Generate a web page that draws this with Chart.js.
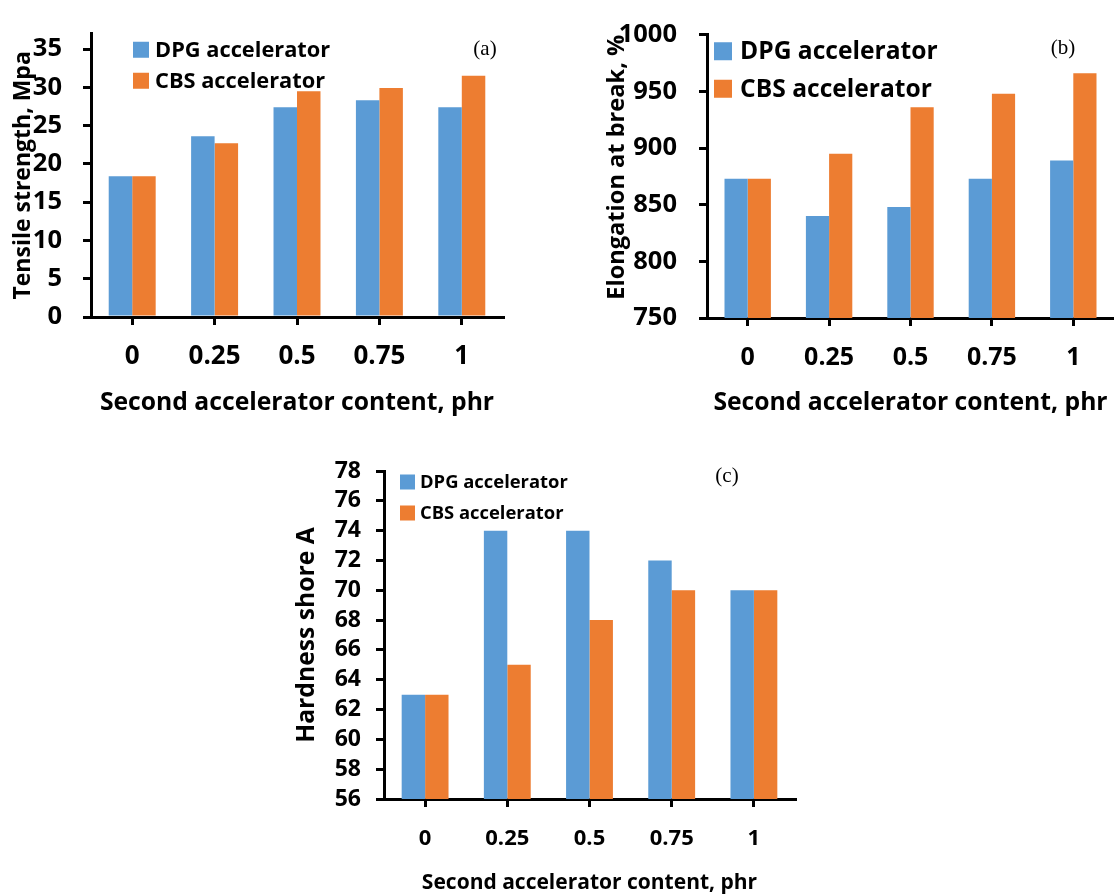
<!DOCTYPE html>
<html>
<head>
<meta charset="utf-8">
<script src="https://cdn.jsdelivr.net/npm/chart.js@4.4.1/dist/chart.umd.min.js"></script>
<style>
  html, body { margin: 0; padding: 0; background: #fff; }
  body { width: 1114px; height: 894px; position: relative; overflow: hidden; }
  canvas { position: absolute; }
  #cA { left: 0; top: 0; }
  #cB { left: 590px; top: 0; }
  #cC { left: 290px; top: 440px; }
</style>
</head>
<body>
<canvas id="cA" width="520" height="420"></canvas>
<canvas id="cB" width="524" height="420"></canvas>
<canvas id="cC" width="620" height="454"></canvas>
<script>
// Second accelerator content (phr)
const categories = ['0', '0.25', '0.5', '0.75', '1'];
const seriesNames = ['DPG accelerator', 'CBS accelerator'];

// (a) Tensile strength, MPa
const tensileDPG = [18.4, 23.6, 27.4, 28.3, 27.4];
const tensileCBS = [18.4, 22.7, 29.5, 29.9, 31.5];

// (b) Elongation at break, %
const elongationDPG = [873, 840, 848, 873, 889];
const elongationCBS = [873, 895, 936, 948, 966];

// (c) Hardness, shore A
const hardnessDPG = [63, 74, 74, 72, 70];
const hardnessCBS = [63, 65, 68, 70, 70];

const BLUE = '#5B9BD5';
const ORANGE = '#ED7D31';
const FONT = '"Open Sans", Lato, sans-serif';

Chart.defaults.font.family = FONT;
Chart.defaults.color = '#000';

// Legend drawn inside the plot area plus the panel tag, e.g. "(a)"
const inlineLegend = {
  id: 'inlineLegend',
  afterDraw(chart, args, o) {
    const ctx = chart.ctx;
    const ca = chart.chartArea;
    ctx.save();
    ctx.font = `bold ${o.size}px ${FONT}`;
    ctx.textBaseline = 'middle';
    ctx.textAlign = 'left';
    chart.data.datasets.forEach((ds, i) => {
      const cy = ca.top + o.dy + i * o.pitch;
      const x = ca.left + o.dx;
      ctx.fillStyle = ds.backgroundColor;
      ctx.fillRect(x, cy - o.box / 2, o.box, o.box);
      ctx.fillStyle = '#000';
      ctx.fillText(ds.label, x + o.box + o.gap, cy + 1);
    });
    ctx.font = `${o.tagSize}px "Liberation Serif", "Times New Roman", serif`;
    ctx.textAlign = 'center';
    ctx.fillText(o.tag, o.tagX, ca.top + o.tagDy);
    ctx.restore();
  }
};

function makeChart(id, dpg, cbs, cfg) {
  return new Chart(document.getElementById(id), {
    type: 'bar',
    data: {
      labels: categories,
      datasets: [
        { label: seriesNames[0], data: dpg, backgroundColor: BLUE },
        { label: seriesNames[1], data: cbs, backgroundColor: ORANGE }
      ]
    },
    options: {
      responsive: false,
      animation: false,
      events: [],
      categoryPercentage: 0.57,
      barPercentage: 1,
      layout: { padding: cfg.padding },
      plugins: {
        legend: { display: false },
        tooltip: { enabled: false },
        inlineLegend: cfg.legend
      },
      scales: {
        x: {
          afterFit(s) { s.height = cfg.xHeight; },
          grid: { display: true, offset: false, drawOnChartArea: false, color: '#000', lineWidth: 3, tickLength: 8 },
          border: { display: true, color: '#000', width: 3 },
          ticks: { font: { size: cfg.xTickSize, weight: 'bold' }, padding: cfg.xTickPad, maxRotation: 0 },
          title: {
            display: true,
            text: 'Second accelerator content, phr',
            font: { size: cfg.xTitleSize, weight: 'bold', lineHeight: 1 },
            padding: { top: 0, bottom: cfg.xTitlePad }
          }
        },
        y: {
          min: cfg.min,
          max: cfg.max,
          afterFit(s) { s.width = cfg.yWidth; },
          grid: { display: true, drawOnChartArea: false, color: '#000', lineWidth: 3, tickLength: 8 },
          border: { display: true, color: '#000', width: 3 },
          ticks: {
            stepSize: cfg.step,
            includeBounds: false,
            autoSkip: false,
            font: { size: cfg.yTickSize, weight: 'bold', lineHeight: 1 },
            padding: cfg.yTickPad,
            callback: (v) => String(v)
          },
          title: {
            display: true,
            text: cfg.yTitle,
            align: cfg.yTitleAlign || 'center',
            font: { size: cfg.yTitleSize, weight: 'bold', lineHeight: 1 },
            padding: { top: cfg.yTitlePad, bottom: 0 }
          }
        }
      }
    },
    plugins: [inlineLegend]
  });
}

function drawAll() {
  makeChart('cA', tensileDPG, tensileCBS, {
    padding: { left: 0, top: 17, right: 17, bottom: 0 },
    min: 0, max: 37, step: 5,
    xHeight: 103, yWidth: 91,
    xTickSize: 26, xTickPad: 16,
    xTitleSize: 24.7, xTitlePad: 5,
    yTickSize: 25.5, yTickPad: 21,
    yTitle: 'Tensile strength, Mpa', yTitleSize: 23, yTitlePad: 11.5,
    legend: { dx: 42, dy: 16, pitch: 31, box: 16, gap: 6, size: 21.8,
              tag: '(a)', tagSize: 21, tagX: 485, tagDy: 16 }
  });

  makeChart('cB', elongationDPG, elongationCBS, {
    padding: { left: 0, top: 21, right: 0, bottom: 0 },
    min: 750, max: 1000, step: 50,
    xHeight: 102, yWidth: 117,
    xTickSize: 25, xTickPad: 17,
    xTitleSize: 24.7, xTitlePad: 5,
    yTickSize: 25.5, yTickPad: 22,
    yTitle: 'Elongation at break, %', yTitleAlign: 'end', yTitleSize: 23.6, yTitlePad: 15,
    legend: { dx: 7, dy: 16.5, pitch: 37.5, box: 18, gap: 8, size: 24.6,
              tag: '(b)', tagSize: 21, tagX: 473, tagDy: 14 }
  });

  makeChart('cC', hardnessDPG, hardnessCBS, {
    padding: { left: 0, top: 31, right: 115, bottom: 0 },
    min: 56, max: 78, step: 2,
    xHeight: 95, yWidth: 94,
    xTickSize: 22, xTickPad: 19,
    xTitleSize: 21, xTitlePad: 0,
    yTickSize: 23, yTickPad: 15,
    yTitle: 'Hardness shore A', yTitleSize: 24.7, yTitlePad: 4.5,
    legend: { dx: 16, dy: 11, pitch: 31, box: 15, gap: 5, size: 18.4,
              tag: '(c)', tagSize: 21, tagX: 437, tagDy: 5 }
  });
}

if (document.fonts && document.fonts.load) {
  Promise.all([
    document.fonts.load('bold 20px "Open Sans"'),
    document.fonts.load('20px "Liberation Serif"')
  ]).then(drawAll, drawAll);
} else {
  drawAll();
}
</script>
</body>
</html>
